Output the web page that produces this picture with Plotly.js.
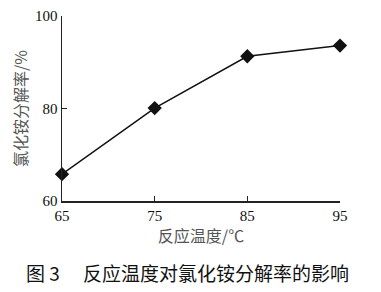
<!DOCTYPE html>
<html><head><meta charset="utf-8">
<script src="https://cdn.plot.ly/plotly-3.0.1.min.js"></script>
<style>body{margin:0;background:#fff}#c{width:381px;height:292px}</style>
</head><body><div id="c"></div>
<script>
var temps = [65, 75, 85, 95];
var rates = [65.8, 80.1, 91.3, 93.6];
var xTickVals = [65, 75, 85, 95];
var yTickVals = [60, 80, 100];
var xTitle = '反应温度/℃';
var yTitle = '氯化铵分解率/%';
var caption = '图 3　 反应温度对氯化铵分解率的影响';

var trace = {
  x: temps, y: rates, type: 'scatter', mode: 'lines+markers',
  line: {color: '#111', width: 1.5},
  marker: {symbol: 'diamond', size: 11, color: '#111'},
  cliponaxis: false
};
var layout = {
  width: 381, height: 292,
  margin: {l: 62, r: 41, t: 16, b: 91},
  paper_bgcolor: '#fff', plot_bgcolor: '#fff',
  showlegend: false,
  xaxis: {
    range: [65, 95], tickvals: xTickVals, ticks: 'inside', ticklen: 5,
    showgrid: false, zeroline: false, showline: true, linecolor: '#222', linewidth: 1.5,
    tickcolor: '#222', tickwidth: 1.5,
    tickfont: {family: 'Liberation Serif, serif', size: 15, color: '#111'},
    title: {text: xTitle, standoff: 4, font: {family: 'Noto Sans CJK SC', size: 16, color: '#555'}}
  },
  yaxis: {
    range: [60, 100], tickvals: yTickVals, ticks: 'inside', ticklen: 5,
    showgrid: false, zeroline: false, showline: true, linecolor: '#222', linewidth: 1.5,
    tickcolor: '#222', tickwidth: 1.5,
    tickfont: {family: 'Liberation Serif, serif', size: 15, color: '#111'},
    title: {text: yTitle, standoff: 3, font: {family: 'Noto Sans CJK SC', size: 16, color: '#555'}}
  },
  annotations: [{
    text: caption, xref: 'paper', yref: 'paper', x: 0.45, y: -0.385,
    xanchor: 'center', yanchor: 'middle', showarrow: false,
    font: {family: 'Noto Sans CJK SC', size: 19, color: '#111'}
  }]
};
Plotly.newPlot('c', [trace], layout, {displayModeBar: false, staticPlot: true});
</script></body></html>
